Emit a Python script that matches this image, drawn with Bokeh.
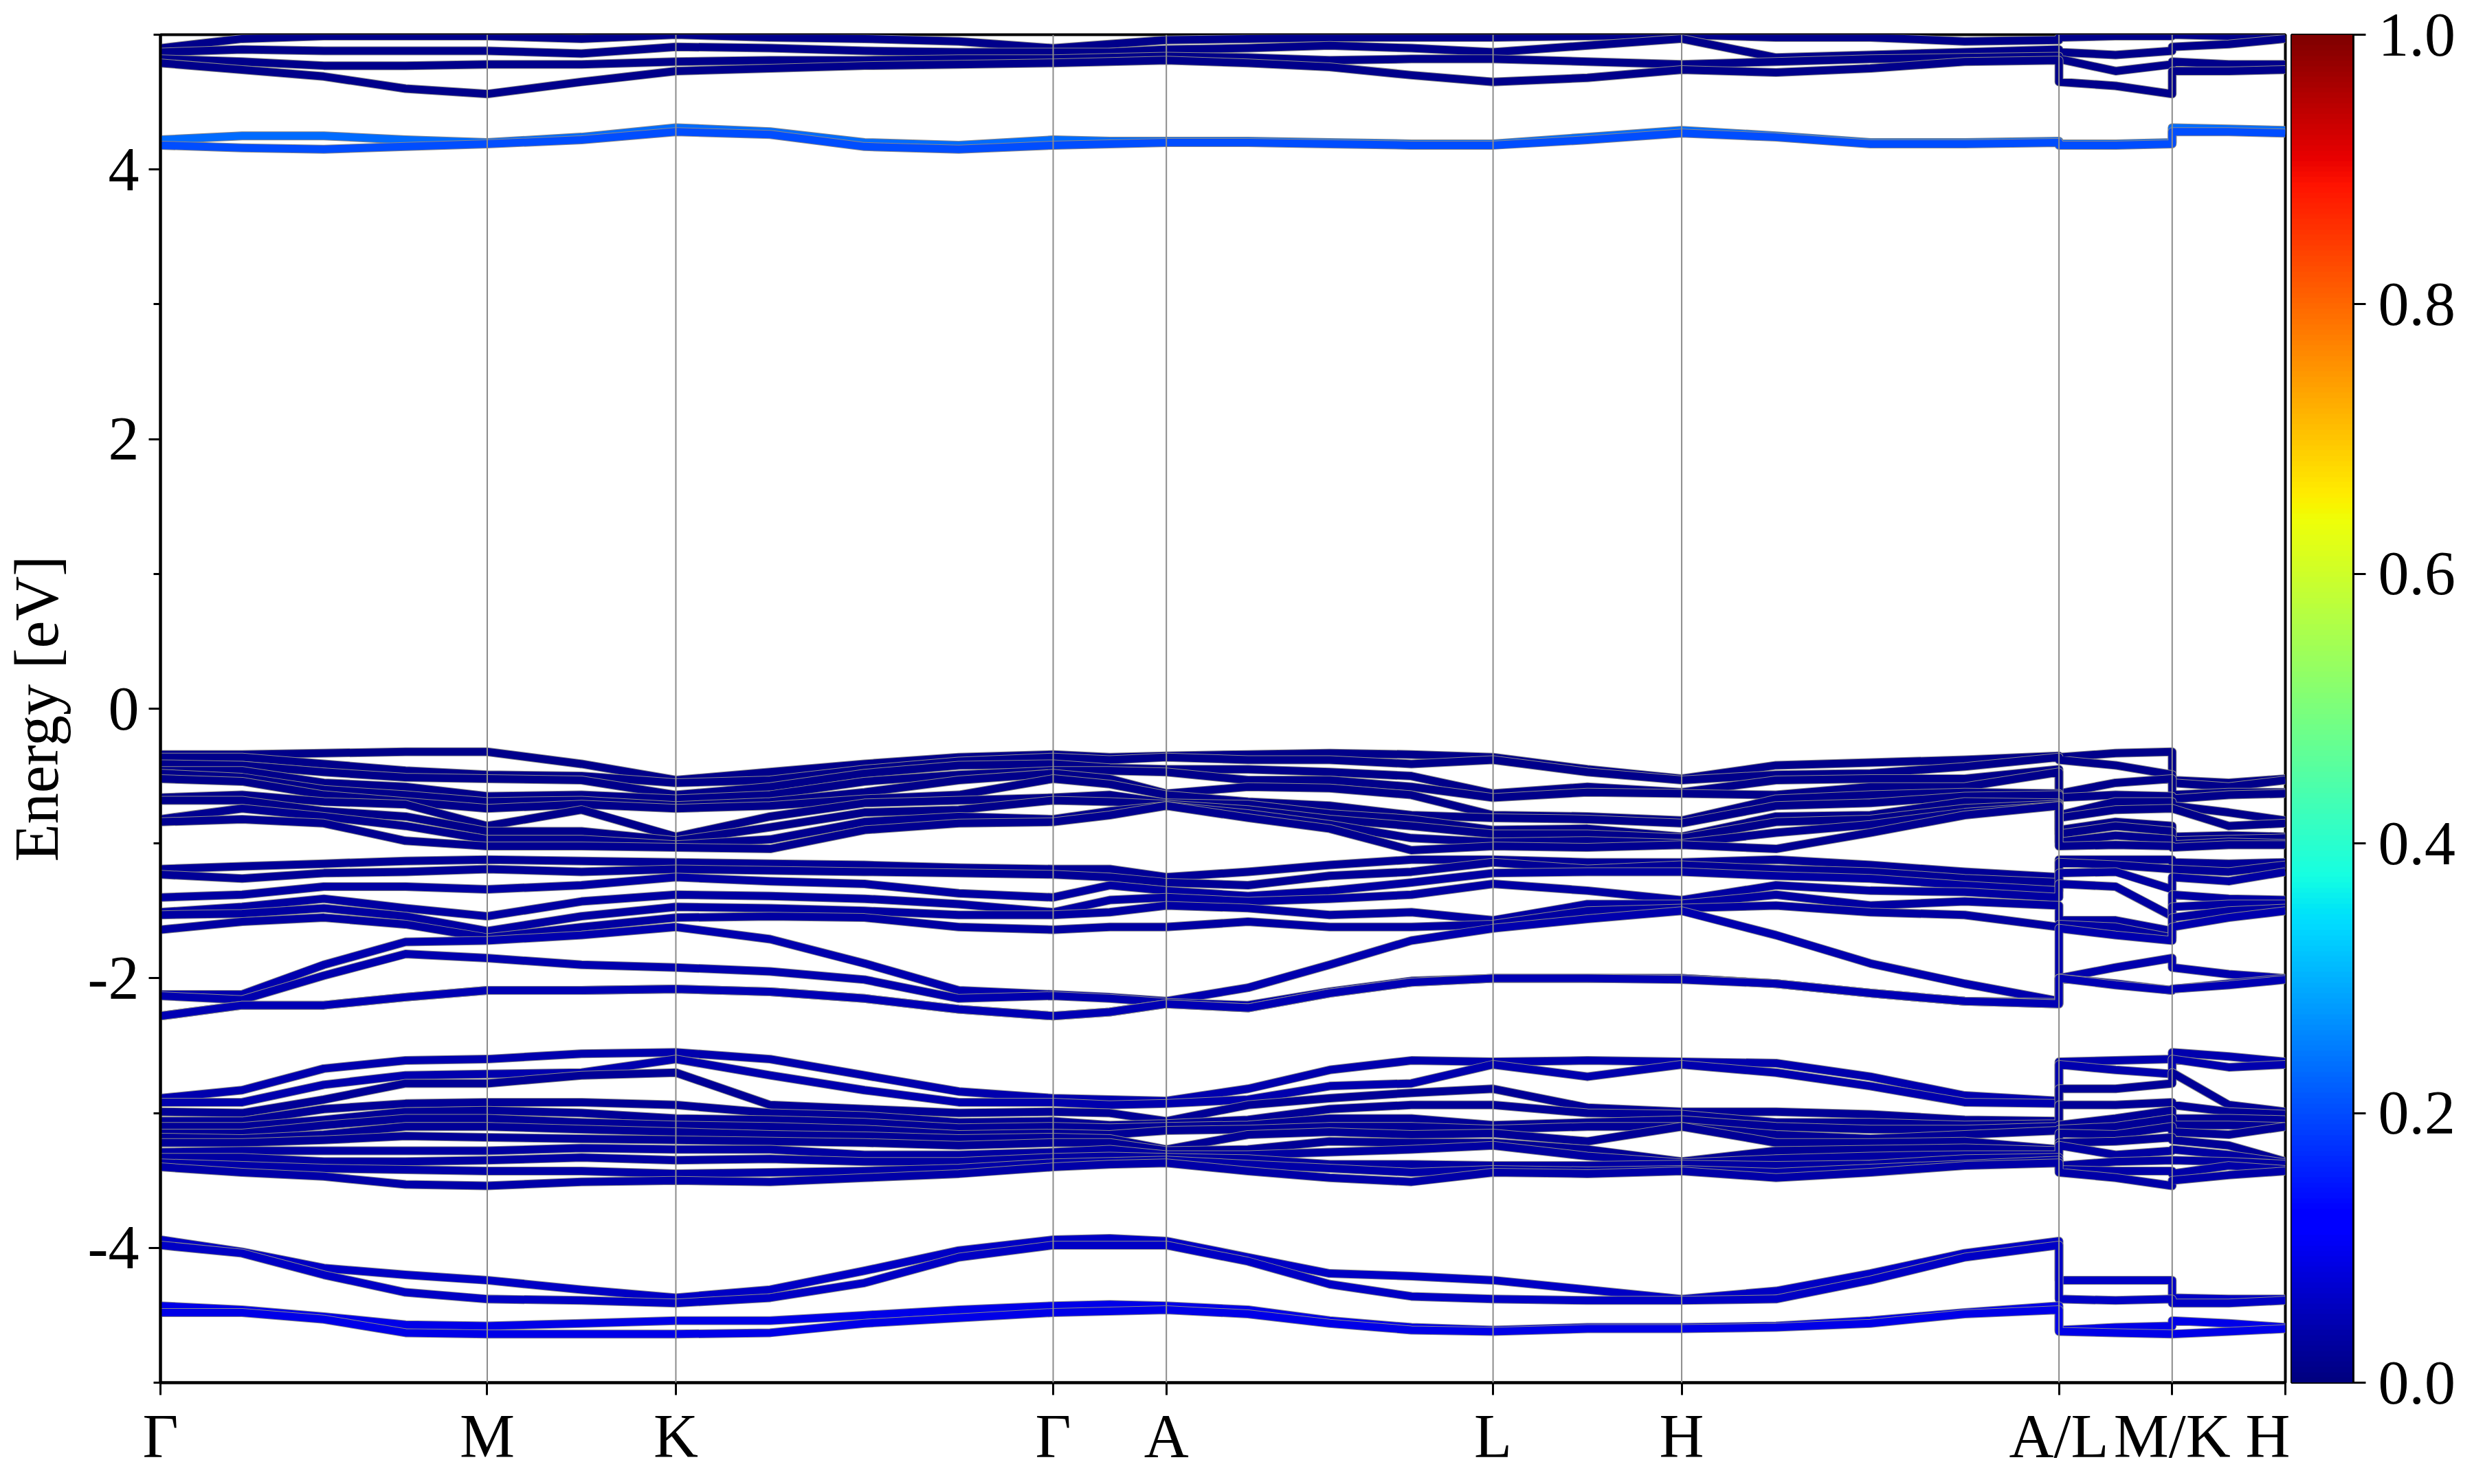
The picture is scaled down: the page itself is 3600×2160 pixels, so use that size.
import numpy as np
from bokeh.plotting import figure
from bokeh.layouts import row
from bokeh.models import (Range1d, FixedTicker, SingleIntervalTicker, Span, LinearColorMapper,
                          PrintfTickFormatter, CustomJSTickFormatter, ColumnDataSource)
from bokeh.embed import file_html
from bokeh.resources import INLINE

# ---------------- data ----------------
K_LABELS = ["Γ", "M", "K", "Γ", "A", "L", "H", "A/L", "M/K", "H"]
K_TICKS = [0.0, 0.5774, 0.9107, 1.5774, 1.7774, 2.3547, 2.6880, 3.3547, 3.5547, 3.7547]

# k positions of the sampled points along the path (A|L and M|K are path breaks)
K_SAMPLES = [0.0, 0.1443, 0.2887, 0.4330, 0.5774, 0.7440, 0.9107, 1.0774, 1.2440, 1.4107,
             1.5774, 1.6774, 1.7774, 1.9217, 2.0660, 2.2104, 2.3547, 2.5214, 2.6880, 2.8547,
             3.0214, 3.1880, 3.3547, 3.3547, 3.4547, 3.5547, 3.5547, 3.6547, 3.7547]

# conduction bands (dark), energy in eV per k sample
C_TOP = [
    [4.90, 4.87, 4.82, 4.79], [4.97, 4.89, 4.80, 4.74], [4.99, 4.88, 4.77, 4.69], [4.99, 4.88, 4.77, 4.60],
    [4.99, 4.88, 4.78, 4.56], [4.97, 4.86, 4.78, 4.65], [5.00, 4.91, 4.80, 4.73], [4.98, 4.90, 4.81, 4.75],
    [4.97, 4.88, 4.81, 4.77], [4.95, 4.87, 4.82, 4.78], [4.90, 4.87, 4.82, 4.79], [4.93, 4.87, 4.83, 4.80],
    [4.96, 4.89, 4.84, 4.81], [4.97, 4.90, 4.83, 4.79], [4.98, 4.92, 4.81, 4.76], [4.98, 4.90, 4.82, 4.70],
    [4.98, 4.87, 4.82, 4.65], [4.99, 4.92, 4.80, 4.68], [5.00, 4.97, 4.78, 4.74], [4.98, 4.83, 4.80, 4.72],
    [4.98, 4.85, 4.82, 4.75], [4.95, 4.87, 4.83, 4.80], [4.96, 4.89, 4.84, 4.81], [4.98, 4.87, 4.82, 4.65],
    [4.99, 4.85, 4.73, 4.62], [4.99, 4.88, 4.78, 4.56], [5.00, 4.91, 4.80, 4.73], [4.99, 4.93, 4.78, 4.73],
    [5.00, 4.97, 4.78, 4.74]]
C_TOP_W = [0.01, 0.01, 0.01, 0.01]

# conduction pair with larger weight (~4.2 eV)
C_MID = [
    [4.22, 4.18], [4.25, 4.16], [4.25, 4.15], [4.22, 4.17], [4.20, 4.19], [4.24, 4.22], [4.31, 4.28],
    [4.28, 4.26], [4.20, 4.17], [4.18, 4.15], [4.22, 4.18], [4.21, 4.19], [4.21, 4.20], [4.21, 4.20],
    [4.20, 4.19], [4.19, 4.18], [4.19, 4.18], [4.24, 4.22], [4.29, 4.27], [4.25, 4.24], [4.20, 4.19],
    [4.20, 4.19], [4.21, 4.20], [4.19, 4.18], [4.19, 4.18], [4.20, 4.19], [4.31, 4.28], [4.30, 4.28],
    [4.29, 4.27]]
C_MID_W = [0.23, 0.20]

# valence bands, top block
V1 = [
    [-0.34, -0.36, -0.41, -0.46, -0.48, -0.52, -0.66, -0.68, -0.82, -0.84],
    [-0.34, -0.36, -0.42, -0.46, -0.51, -0.54, -0.64, -0.68, -0.74, -0.82],
    [-0.33, -0.41, -0.47, -0.55, -0.60, -0.64, -0.69, -0.76, -0.80, -0.85],
    [-0.32, -0.46, -0.51, -0.58, -0.64, -0.69, -0.71, -0.80, -0.87, -0.98],
    [-0.32, -0.49, -0.52, -0.65, -0.69, -0.74, -0.87, -0.91, -0.97, -1.02],
    [-0.41, -0.50, -0.53, -0.64, -0.68, -0.71, -0.75, -0.91, -0.97, -1.02],
    [-0.53, -0.55, -0.64, -0.67, -0.72, -0.74, -0.95, -0.98, -1.01, -1.03],
    [-0.47, -0.53, -0.58, -0.64, -0.69, -0.72, -0.80, -0.88, -0.97, -1.04],
    [-0.41, -0.45, -0.48, -0.54, -0.62, -0.67, -0.70, -0.77, -0.84, -0.90],
    [-0.36, -0.39, -0.42, -0.49, -0.53, -0.64, -0.68, -0.75, -0.80, -0.85],
    [-0.34, -0.36, -0.41, -0.46, -0.48, -0.52, -0.66, -0.68, -0.82, -0.84],
    [-0.36, -0.38, -0.44, -0.46, -0.52, -0.56, -0.64, -0.69, -0.76, -0.79],
    [-0.35, -0.36, -0.45, -0.47, -0.63, -0.64, -0.70, -0.71, -0.72, -0.72],
    [-0.34, -0.38, -0.45, -0.53, -0.58, -0.69, -0.71, -0.75, -0.78, -0.81],
    [-0.33, -0.38, -0.47, -0.53, -0.59, -0.72, -0.78, -0.82, -0.86, -0.89],
    [-0.34, -0.41, -0.50, -0.58, -0.64, -0.79, -0.82, -0.87, -0.96, -1.05],
    [-0.36, -0.38, -0.63, -0.66, -0.79, -0.81, -0.90, -0.93, -0.99, -1.02],
    [-0.45, -0.47, -0.58, -0.62, -0.80, -0.82, -0.89, -0.93, -0.98, -1.03],
    [-0.52, -0.53, -0.62, -0.63, -0.83, -0.85, -0.95, -0.96, -1.00, -1.01],
    [-0.42, -0.49, -0.53, -0.64, -0.67, -0.72, -0.80, -0.84, -0.92, -1.04],
    [-0.40, -0.48, -0.52, -0.58, -0.64, -0.70, -0.79, -0.82, -0.86, -0.92],
    [-0.38, -0.43, -0.52, -0.58, -0.62, -0.65, -0.69, -0.74, -0.77, -0.79],
    [-0.35, -0.36, -0.45, -0.47, -0.63, -0.64, -0.70, -0.71, -0.72, -0.72],
    [-0.36, -0.38, -0.63, -0.66, -0.79, -0.81, -0.90, -0.93, -0.99, -1.02],
    [-0.33, -0.42, -0.55, -0.64, -0.69, -0.75, -0.84, -0.87, -0.94, -1.01],
    [-0.32, -0.49, -0.52, -0.65, -0.69, -0.74, -0.87, -0.91, -0.97, -1.02],
    [-0.53, -0.55, -0.64, -0.67, -0.72, -0.74, -0.95, -0.98, -1.01, -1.03],
    [-0.55, -0.58, -0.62, -0.64, -0.77, -0.87, -0.94, -0.97, -0.99, -1.01],
    [-0.52, -0.53, -0.62, -0.63, -0.83, -0.85, -0.95, -0.96, -1.00, -1.01]]
V1_W = [0.01, 0.01, 0.01, 0.01, 0.01, 0.01, 0.01, 0.01, 0.015, 0.015]

V2 = [
    [-1.19, -1.23, -1.40, -1.51, -1.53, -1.64, -2.12, -2.13, -2.28, -2.28],
    [-1.17, -1.26, -1.38, -1.47, -1.52, -1.58, -2.12, -2.16, -2.20, -2.20],
    [-1.15, -1.22, -1.32, -1.41, -1.48, -1.55, -1.90, -1.98, -2.20, -2.20],
    [-1.13, -1.21, -1.32, -1.48, -1.54, -1.60, -1.73, -1.82, -2.14, -2.14],
    [-1.12, -1.19, -1.34, -1.54, -1.65, -1.70, -1.72, -1.85, -2.09, -2.09],
    [-1.13, -1.21, -1.31, -1.43, -1.54, -1.62, -1.68, -1.90, -2.09, -2.09],
    [-1.14, -1.19, -1.25, -1.38, -1.47, -1.55, -1.62, -1.92, -2.08, -2.08],
    [-1.15, -1.20, -1.28, -1.39, -1.48, -1.54, -1.71, -1.95, -2.10, -2.10],
    [-1.16, -1.21, -1.30, -1.41, -1.50, -1.55, -1.89, -2.01, -2.15, -2.15],
    [-1.18, -1.22, -1.37, -1.45, -1.53, -1.62, -2.09, -2.15, -2.23, -2.23],
    [-1.19, -1.23, -1.40, -1.51, -1.53, -1.64, -2.12, -2.13, -2.28, -2.28],
    [-1.19, -1.25, -1.31, -1.42, -1.51, -1.62, -2.14, -2.15, -2.25, -2.25],
    [-1.25, -1.29, -1.35, -1.40, -1.46, -1.62, -2.17, -2.18, -2.19, -2.19],
    [-1.21, -1.31, -1.39, -1.43, -1.48, -1.58, -2.07, -2.20, -2.22, -2.22],
    [-1.16, -1.24, -1.35, -1.41, -1.53, -1.62, -1.90, -2.10, -2.11, -2.11],
    [-1.12, -1.21, -1.29, -1.38, -1.51, -1.62, -1.72, -2.02, -2.03, -2.03],
    [-1.12, -1.14, -1.22, -1.30, -1.57, -1.60, -1.63, -2.00, -2.00, -2.00],
    [-1.14, -1.19, -1.21, -1.35, -1.45, -1.50, -1.56, -2.00, -2.00, -2.00],
    [-1.14, -1.16, -1.21, -1.42, -1.45, -1.48, -1.50, -2.00, -2.00, -2.01],
    [-1.12, -1.19, -1.24, -1.31, -1.38, -1.46, -1.68, -2.04, -2.04, -2.04],
    [-1.16, -1.21, -1.26, -1.35, -1.46, -1.51, -1.89, -2.11, -2.11, -2.11],
    [-1.21, -1.26, -1.31, -1.36, -1.43, -1.53, -2.04, -2.17, -2.17, -2.17],
    [-1.25, -1.29, -1.35, -1.40, -1.46, -1.62, -2.17, -2.18, -2.19, -2.19],
    [-1.12, -1.14, -1.22, -1.30, -1.57, -1.60, -1.63, -2.00, -2.00, -2.00],
    [-1.12, -1.16, -1.21, -1.32, -1.57, -1.62, -1.68, -1.92, -2.04, -2.05],
    [-1.12, -1.19, -1.34, -1.54, -1.65, -1.70, -1.72, -1.85, -2.09, -2.09],
    [-1.14, -1.19, -1.25, -1.38, -1.47, -1.55, -1.62, -1.92, -2.08, -2.08],
    [-1.15, -1.21, -1.28, -1.41, -1.45, -1.50, -1.55, -1.97, -2.04, -2.05],
    [-1.14, -1.16, -1.21, -1.42, -1.45, -1.48, -1.50, -2.00, -2.00, -2.01]]
V2_W = [0.02, 0.02, 0.03, 0.03, 0.03, 0.03, 0.04, 0.04, 0.045, 0.045]

V3 = [
    [-2.89, -2.92, -2.99, -3.06, -3.10, -3.15, -3.18, -3.22, -3.29, -3.33, -3.37, -3.40],
    [-2.83, -2.92, -3.00, -3.06, -3.10, -3.15, -3.19, -3.22, -3.28, -3.33, -3.39, -3.44],
    [-2.67, -2.79, -2.90, -2.97, -3.05, -3.09, -3.16, -3.20, -3.28, -3.36, -3.41, -3.47],
    [-2.61, -2.72, -2.78, -2.93, -2.99, -3.04, -3.10, -3.17, -3.28, -3.36, -3.42, -3.53],
    [-2.60, -2.71, -2.78, -2.92, -2.98, -3.04, -3.10, -3.18, -3.28, -3.35, -3.43, -3.54],
    [-2.56, -2.70, -2.72, -2.92, -3.00, -3.07, -3.12, -3.19, -3.26, -3.33, -3.43, -3.51],
    [-2.55, -2.60, -2.70, -2.94, -3.04, -3.09, -3.14, -3.20, -3.27, -3.35, -3.45, -3.50],
    [-2.60, -2.72, -2.94, -3.00, -3.05, -3.10, -3.16, -3.21, -3.27, -3.34, -3.44, -3.51],
    [-2.72, -2.83, -2.97, -3.02, -3.07, -3.12, -3.17, -3.22, -3.31, -3.36, -3.43, -3.48],
    [-2.84, -2.92, -3.00, -3.07, -3.11, -3.16, -3.19, -3.24, -3.31, -3.36, -3.41, -3.45],
    [-2.89, -2.92, -2.99, -3.06, -3.10, -3.15, -3.18, -3.22, -3.29, -3.33, -3.37, -3.40],
    [-2.90, -2.94, -3.00, -3.09, -3.11, -3.16, -3.19, -3.22, -3.27, -3.32, -3.36, -3.38],
    [-2.91, -2.93, -3.06, -3.08, -3.10, -3.13, -3.27, -3.28, -3.31, -3.33, -3.35, -3.37],
    [-2.82, -2.90, -2.94, -3.05, -3.09, -3.12, -3.16, -3.27, -3.31, -3.34, -3.38, -3.43],
    [-2.68, -2.80, -2.89, -2.97, -3.04, -3.10, -3.14, -3.21, -3.29, -3.38, -3.41, -3.48],
    [-2.61, -2.78, -2.85, -2.94, -3.04, -3.10, -3.16, -3.22, -3.27, -3.38, -3.44, -3.51],
    [-2.62, -2.64, -2.82, -2.94, -3.09, -3.12, -3.15, -3.22, -3.24, -3.39, -3.42, -3.44],
    [-2.61, -2.73, -2.96, -3.00, -3.07, -3.10, -3.21, -3.27, -3.32, -3.39, -3.43, -3.45],
    [-2.62, -2.64, -2.99, -3.01, -3.05, -3.10, -3.10, -3.36, -3.37, -3.38, -3.42, -3.43],
    [-2.63, -2.70, -2.99, -3.07, -3.10, -3.16, -3.22, -3.28, -3.34, -3.39, -3.44, -3.48],
    [-2.73, -2.80, -3.01, -3.07, -3.12, -3.19, -3.22, -3.27, -3.32, -3.38, -3.41, -3.44],
    [-2.87, -2.92, -3.05, -3.09, -3.12, -3.16, -3.21, -3.26, -3.31, -3.34, -3.38, -3.39],
    [-2.91, -2.93, -3.06, -3.08, -3.10, -3.13, -3.27, -3.28, -3.31, -3.33, -3.35, -3.37],
    [-2.62, -2.64, -2.82, -2.94, -3.09, -3.12, -3.15, -3.22, -3.24, -3.39, -3.42, -3.44],
    [-2.61, -2.68, -2.82, -2.94, -3.04, -3.10, -3.16, -3.21, -3.31, -3.36, -3.43, -3.48],
    [-2.60, -2.71, -2.78, -2.92, -2.98, -3.04, -3.10, -3.18, -3.28, -3.35, -3.43, -3.54],
    [-2.55, -2.60, -2.70, -2.94, -3.04, -3.09, -3.14, -3.20, -3.27, -3.35, -3.45, -3.50],
    [-2.58, -2.66, -2.94, -2.99, -3.04, -3.09, -3.16, -3.24, -3.31, -3.36, -3.39, -3.46],
    [-2.62, -2.64, -2.99, -3.01, -3.05, -3.10, -3.10, -3.36, -3.37, -3.38, -3.42, -3.43]]
V3_W = [0.04, 0.04, 0.02, 0.02, 0.02, 0.02, 0.02, 0.02, 0.03, 0.03, 0.035, 0.035]

V4 = [
    [-3.94, -3.98, -4.43, -4.48], [-4.03, -4.04, -4.46, -4.48], [-4.15, -4.20, -4.51, -4.53],
    [-4.20, -4.33, -4.57, -4.63], [-4.24, -4.38, -4.58, -4.64], [-4.31, -4.39, -4.56, -4.64],
    [-4.37, -4.41, -4.54, -4.64], [-4.31, -4.37, -4.54, -4.63], [-4.17, -4.26, -4.50, -4.56],
    [-4.02, -4.07, -4.46, -4.52], [-3.94, -3.98, -4.43, -4.48], [-3.93, -3.98, -4.42, -4.47],
    [-3.95, -3.98, -4.43, -4.46], [-4.07, -4.10, -4.46, -4.49], [-4.19, -4.27, -4.54, -4.56],
    [-4.21, -4.36, -4.59, -4.61], [-4.24, -4.38, -4.61, -4.62], [-4.31, -4.39, -4.59, -4.60],
    [-4.38, -4.39, -4.59, -4.60], [-4.32, -4.38, -4.58, -4.59], [-4.19, -4.24, -4.54, -4.56],
    [-4.04, -4.07, -4.48, -4.49], [-3.95, -3.98, -4.43, -4.46], [-4.24, -4.38, -4.61, -4.62],
    [-4.24, -4.39, -4.59, -4.63], [-4.24, -4.38, -4.58, -4.64], [-4.37, -4.41, -4.54, -4.64],
    [-4.38, -4.41, -4.56, -4.62], [-4.38, -4.39, -4.59, -4.60]]
V4_W = [0.06, 0.06, 0.09, 0.09]

CBAR_TICKS = [0.0, 0.2, 0.4, 0.6, 0.8, 1.0]

# ---------------- colormap (jet) ----------------
def jet_rgb(v):
    r = np.interp(v, [0, 0.35, 0.66, 0.89, 1], [0, 0, 1, 1, 0.5])
    g = np.interp(v, [0, 0.125, 0.375, 0.64, 0.91, 1], [0, 0, 1, 1, 0, 0])
    b = np.interp(v, [0, 0.11, 0.34, 0.65, 1], [0.5, 1, 1, 0, 0])
    return "#%02x%02x%02x" % (int(round(255 * r)), int(round(255 * g)), int(round(255 * b)))

JET = [jet_rgb(v) for v in np.linspace(0, 1, 256)]

# ---------------- main figure ----------------
FONT = "Liberation Serif"
FS = "90px"
TOP, BOTTOM = 50, 132

p = figure(width=3332, height=2144, x_range=Range1d(0, K_TICKS[-1]), y_range=Range1d(-5, 5),
           output_backend="svg", toolbar_location=None,
           min_border_left=231, min_border_top=TOP, min_border_right=7, min_border_bottom=BOTTOM)
p.xgrid.visible = False
p.ygrid.visible = False
p.background_fill_color = "white"
p.border_fill_color = "white"
p.outline_line_color = "black"
p.outline_line_width = 4

xs, ys, cols, wids = [], [], [], []
for group, weights in [(C_TOP, C_TOP_W), (C_MID, C_MID_W), (V1, V1_W), (V2, V2_W), (V3, V3_W), (V4, V4_W)]:
    nb = len(group[0])
    for j in range(nb):
        e = [r[j] for r in group]
        xs.append(K_SAMPLES); ys.append(e); cols.append("#8a8a8a"); wids.append(13)
        xs.append(K_SAMPLES); ys.append(e); cols.append(jet_rgb(weights[j])); wids.append(11)

src = ColumnDataSource(dict(xs=xs, ys=ys, c=cols, w=wids))
p.multi_line("xs", "ys", source=src, line_color="c", line_width="w", line_join="round", line_cap="butt")

for t in K_TICKS[1:-1]:
    p.add_layout(Span(location=t, dimension="height", line_color="#8c8c8c", line_width=2))

# x axis
p.xaxis.ticker = FixedTicker(ticks=K_TICKS)
p.xaxis.formatter = CustomJSTickFormatter(args=dict(kpos=K_TICKS, klab=K_LABELS), code="""
let best = 0, d = 1e9;
for (let i = 0; i < kpos.length; i++) { const dd = Math.abs(kpos[i] - tick); if (dd < d) { d = dd; best = i; } }
return klab[best];
""")
p.xaxis.major_tick_in = 0
p.xaxis.major_tick_out = 18
p.xaxis.major_tick_line_width = 3
p.xaxis.minor_tick_line_color = None
p.xaxis.axis_line_width = 4
p.xaxis.major_label_standoff = 10
p.xaxis.major_label_text_font = FONT
p.xaxis.major_label_text_font_size = FS
p.xaxis.major_label_text_color = "black"

# y axis
p.yaxis.ticker = SingleIntervalTicker(interval=2, num_minor_ticks=2)
p.yaxis.formatter = CustomJSTickFormatter(code="return tick.toFixed(0);")
p.yaxis.major_tick_in = 0
p.yaxis.major_tick_out = 17
p.yaxis.minor_tick_in = 0
p.yaxis.minor_tick_out = 10
p.yaxis.major_tick_line_width = 3
p.yaxis.minor_tick_line_width = 3
p.yaxis.axis_line_width = 4
p.yaxis.major_label_standoff = 14
p.yaxis.major_label_text_font = FONT
p.yaxis.major_label_text_font_size = FS
p.yaxis.major_label_text_color = "black"
p.yaxis.axis_label = "Energy [eV]"
p.yaxis.axis_label_text_font = FONT
p.yaxis.axis_label_text_font_size = FS
p.yaxis.axis_label_text_font_style = "normal"
p.yaxis.axis_label_text_color = "black"
p.yaxis.axis_label_standoff = 22

# ---------------- colour bar (own small figure) ----------------
mapper = LinearColorMapper(palette=JET, low=0, high=1)
cbf = figure(width=244, height=2144, x_range=Range1d(0, 1), y_range=Range1d(0, 1),
             output_backend="svg", toolbar_location=None, y_axis_location="right",
             min_border_left=2, min_border_right=149, min_border_top=TOP, min_border_bottom=BOTTOM)
cbf.xgrid.visible = False
cbf.ygrid.visible = False
cbf.xaxis.visible = False
cbf.border_fill_color = "white"
cbf.image(image=[np.linspace(0, 1, 256).reshape(256, 1)], x=0, y=0, dw=1, dh=1, color_mapper=mapper)
cbf.outline_line_color = "black"
cbf.outline_line_width = 3
cbf.yaxis.ticker = FixedTicker(ticks=CBAR_TICKS)
cbf.yaxis.formatter = PrintfTickFormatter(format="%.1f")
cbf.yaxis.minor_tick_line_color = None
cbf.yaxis.major_tick_in = 0
cbf.yaxis.major_tick_out = 18
cbf.yaxis.major_tick_line_width = 3
cbf.yaxis.axis_line_width = 3
cbf.yaxis.major_label_standoff = 18
cbf.yaxis.major_label_text_font = FONT
cbf.yaxis.major_label_text_font_size = FS
cbf.yaxis.major_label_text_color = "black"

layout = row(p, cbf, spacing=0)
open("out.html", "w").write(file_html(layout, INLINE))
